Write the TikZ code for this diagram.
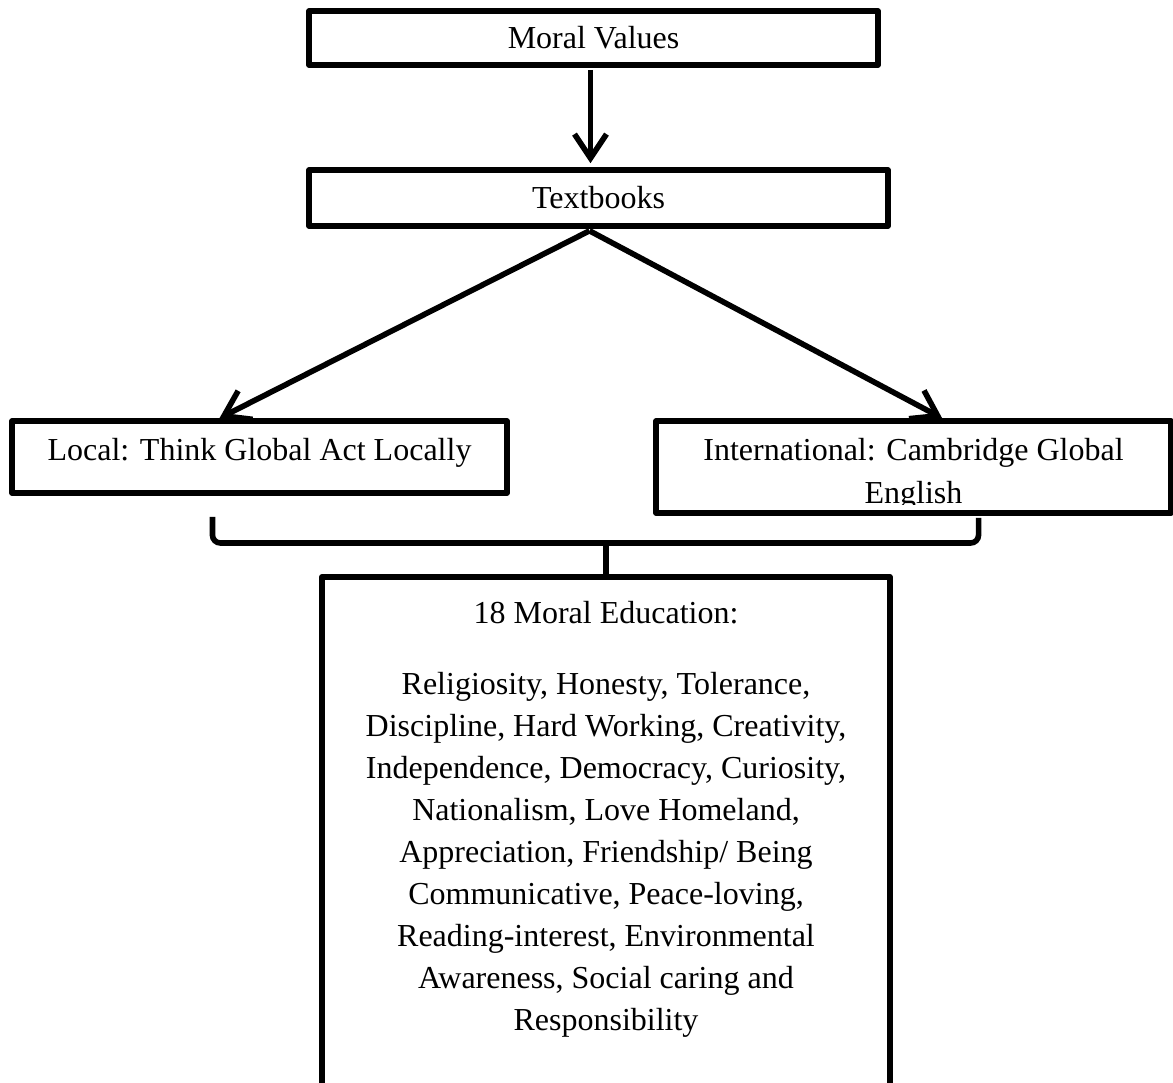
\documentclass[tikz,border=0pt]{standalone}
\usepackage{fontspec}
\setmainfont{Liberation Serif}
\usetikzlibrary{arrows.meta,calc}
\begin{document}
\begin{tikzpicture}[x=0.75pt,y=-0.75pt,
  every node/.style={font=\fontsize{24pt}{31.5pt}\selectfont},
  box/.style={draw, line width=4.2pt, inner sep=0pt, line join=round},
  txt/.style={inner sep=0pt, align=center},
  arr/.style={line width=4.2pt, -{Straight Barb[length=18pt,width=24pt,line width=4.2pt]}},
  brace/.style={line width=4.2pt, rounded corners=6pt}]
\useasboundingbox (0,0) rectangle (1173,1082);
\clip (0,0) rectangle (1173,1082);
\fill[white] (0,0) rectangle (1173,1082);

% top boxes
\node[box, minimum width=426.75pt, minimum height=40.5pt] (mv) at (593.5,38) {Moral Values};
\node[box, minimum width=434.25pt, minimum height=42pt] (tb) at (598.5,198) {Textbooks};

% local
\node[box, minimum width=371.25pt, minimum height=54pt] (lb) at (259.5,457) {};
\node[txt, anchor=base] (lt) at (259.5,460) {Local: Think Global Act Locally};

% international (text clipped at the lower frame)
\begin{scope}
  \clip (656,421) rectangle (1171,504);
  \node[txt, anchor=base] (it1) at (913.5,460) {International: Cambridge Global};
  \node[txt, anchor=base] (it2) at (913.5,503) {English};
\end{scope}
\node[box, minimum width=386.25pt, minimum height=69pt] (ib) at (913.5,467) {};

% big box (runs past the page bottom)
\node[box, minimum width=426pt, minimum height=420pt, anchor=north] (mb) at (606,574) {};
\node[txt, anchor=base] (mh) at (606,623) {18 Moral Education:};
\node[txt, anchor=north] (ml) at (606,672) {Religiosity, Honesty, Tolerance,\\
Discipline, Hard Working, Creativity,\\
Independence, Democracy, Curiosity,\\
Nationalism, Love Homeland,\\
Appreciation, Friendship/ Being\\
Communicative, Peace-loving,\\
Reading-interest, Environmental\\
Awareness, Social caring and\\
Responsibility};

% arrows
\draw[arr] ($(mv.south)+(-3,2)$) -- ($(mv.south|-tb.north)+(-3,-4)$);
\coordinate (apex) at ($(tb.south)+(-9,2)$);
\draw[arr] (apex) -- ($(lb.north west)!0.42!(lb.north east)$);
\draw[arr] (apex) -- ($(ib.north west)!0.555!(ib.north east)$);

% brace
\coordinate (bl) at ($(lb.south west)!0.406!(lb.south east)+(0,21)$);
\coordinate (br) at ($(ib.south west)!0.625!(ib.south east)+(0,2)$);
\coordinate (bt) at (mb.north);
\draw[brace] (bl) |- (599,543) to[out=0,in=90] ($(bt)+(0,-16)$) -- (bt);
\draw[brace] (br) |- (613,543) to[out=180,in=90] ($(bt)+(0,-16)$);
\end{tikzpicture}
\end{document}
